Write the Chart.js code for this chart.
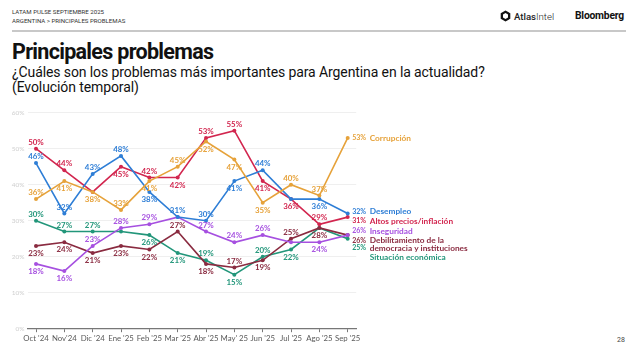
<!DOCTYPE html>
<html><head><meta charset="utf-8">
<script src="https://cdn.jsdelivr.net/npm/chart.js@4/dist/chart.umd.min.js"></script>
<style>
html,body{margin:0;padding:0;background:#fff;width:640px;height:360px;overflow:hidden;font-family:Roboto,"Noto Sans",sans-serif;}
.abs{position:absolute;white-space:nowrap;}
#k1{left:12px;top:8px;font-size:6.1px;color:#333;}
#k2{left:12px;top:17px;font-size:6.1px;color:#333;}
#rule{left:12px;top:30px;width:614px;height:1.5px;background:#c8c8c8;}
#atlas{left:500px;top:10px;font-size:9.6px;color:#222;display:flex;align-items:center;}
#bb{left:575px;top:9px;font-size:10.3px;font-weight:700;color:#111;letter-spacing:-0.2px;}
#title{left:12px;top:39px;font-size:21.5px;font-weight:700;color:#111;letter-spacing:-0.7px;}
#sub{left:12px;top:65px;font-size:14px;color:#111;line-height:14.5px;letter-spacing:-0.1px;}
#pg{left:617px;top:336px;font-size:7px;color:#444;}
#c{position:absolute;left:0;top:100px;}
</style></head>
<body>
<div class="abs" id="k1">LATAM PULSE SEPTIEMBRE 2025</div>
<div class="abs" id="k2">ARGENTINA &gt; PRINCIPALES PROBLEMAS</div>
<div class="abs" id="rule"></div>
<div class="abs" id="atlas"><svg width="11" height="12" viewBox="0 0 11 12" style="margin-right:3px"><path d="M5.5 0.5 L10.3 3.2 L10.3 8.8 L5.5 11.5 L0.7 8.8 L0.7 3.2 Z" fill="#111"/><path d="M5.5 3 L8 4.5 L8 7.5 L5.5 9 L3 7.5 L3 4.5 Z" fill="#fff"/></svg><span><b style="font-weight:500">Atlas</b><span style="font-weight:300">Intel</span></span></div>
<div class="abs" id="bb">Bloomberg</div>
<div class="abs" id="title">Principales problemas</div>
<div class="abs" id="sub">¿Cuáles son los problemas más importantes para Argentina en la actualidad?<br>(Evolución temporal)</div>
<div class="abs" id="pg">28</div>
<canvas id="c" width="640" height="260"></canvas>
<script>
// ---- DATA ----
const months = ["Oct '24","Nov'24","Dic '24","Ene '25","Feb '25","Mar '25","Abr '25","May' 25","Jun '25","Jul '25","Ago '25","Sep '25"];
const yTicks = [0,10,20,30,40,50,60];
const corrupcion     = [36,41,38,33,41,45,52,47,35,40,37,53];
const desempleo      = [46,32,43,48,38,31,30,41,44,36,36,32];
const altosPrecios   = [50,44,38,45,42,42,53,55,41,36,29,31];
const inseguridad    = [18,16,23,28,29,31,27,24,26,24,24,26];
const debilitamiento = [23,24,21,23,22,27,18,17,19,25,28,26];
const situacion      = [30,27,27,27,26,21,19,15,20,22,28,25];
const seriesNames = ["Corrupción","Desempleo","Altos precios/inflación","Inseguridad","Debilitamiento de la democracia y instituciones","Situación económica"];

// ---- STYLE ----
const colors = ["#E6A23A","#2E7ED6","#D2264F","#A650E0","#8A2B40","#22967A"];
// label placement per point: a = above, b = below, - = none (last point handled separately)
const placement = [
  "abbababbbaa",
  "aaaabaaba-b",
  "aa-babaabba",
  "bbaaa-aaa-b",
  "bbbbbababab",
  "aaa-bbabab-"
];
const nameLines = [["Corrupción"],["Desempleo"],["Altos precios/inflación"],["Inseguridad"],["Debilitamiento de la","democracia y instituciones"],["Situación económica"]];
const valueRow = [null,0,1,2,3,3.75];
const nameRow  = [null,0,1,2,3,4.75];
const FONT = 'Lato, "Noto Sans", sans-serif';

const allSeries = [corrupcion,desempleo,altosPrecios,inseguridad,debilitamiento,situacion];

const labelPlugin = {
  id:'labels',
  afterDatasetsDraw(chart){
    const ctx = chart.ctx;
    ctx.save();
    const metas = allSeries.map((_,d)=>chart.getDatasetMeta(d));
    const baseY = metas[1].data[11].y - 2;
    const step = 9.7;
    allSeries.forEach((vals,d)=>{
      const meta = metas[d];
      ctx.fillStyle = colors[d];
      ctx.textAlign='center';
      ctx.textBaseline='middle';
      ctx.font = '700 7.9px '+FONT;
      for(let i=0;i<vals.length-1;i++){
        const p = meta.data[i];
        const c = placement[d][i];
        if(c==='a') ctx.fillText(vals[i]+'%', p.x, p.y-6.5);
        else if(c==='b') ctx.fillText(vals[i]+'%', p.x, p.y+7.5);
      }
      const last = meta.data[vals.length-1];
      const vy = valueRow[d]===null ? last.y : baseY + valueRow[d]*step;
      const ny = nameRow[d]===null ? last.y : baseY + nameRow[d]*step;
      ctx.textAlign='left';
      ctx.font = '700 7px '+FONT;
      ctx.fillText(vals[vals.length-1]+'%', last.x+4.5, vy);
      ctx.font = '700 8.3px '+FONT;
      nameLines[d].forEach((ln,k)=>ctx.fillText(ln, last.x+22, ny + k*7.6));
    });
    ctx.restore();
  }
};

new Chart(document.getElementById('c'),{
  type:'line',
  data:{
    datasets: allSeries.map((vals,d)=>({
      label: seriesNames[d],
      data: vals.map((v,i)=>({x:i,y:v})),
      borderColor: colors[d],
      backgroundColor: colors[d],
      borderWidth:1.6,
      pointRadius:2,
      pointBorderWidth:0,
      tension:0
    }))
  },
  options:{
    responsive:false,
    animation:false,
    devicePixelRatio:1,
    layout:{padding:{top:12.7,right:283.8,left:0,bottom:0}},
    plugins:{legend:{display:false},tooltip:{enabled:false}},
    scales:{
      x:{
        type:'linear', min:-0.3, max:11.3,
        afterBuildTicks:(s)=>{ s.ticks = months.map((_,i)=>({value:i})); },
        afterFit:(s)=>{ s.height = 31.3; },
        ticks:{autoSkip:false,maxRotation:0,padding:2,color:'#5a5a5a',font:{family:FONT,size:7.8},callback:(v)=>months[v]},
        grid:{drawOnChartArea:false,drawTicks:true,tickLength:3.5,color:'#777',lineWidth:1},
        border:{display:true,color:'#777',width:1.2}
      },
      y:{
        min:0,max:60,
        afterBuildTicks:(s)=>{ s.ticks = yTicks.map(v=>({value:v})); },
        afterFit:(s)=>{ s.width = 27.5; },
        ticks:{padding:3,color:'#cfcfcf',font:{family:FONT,size:6.5},callback:(v)=>v+'%'},
        grid:{drawTicks:false,color:'#efefef',lineWidth:1},
        border:{display:false}
      }
    }
  },
  plugins:[labelPlugin]
});
</script>
</body></html>
